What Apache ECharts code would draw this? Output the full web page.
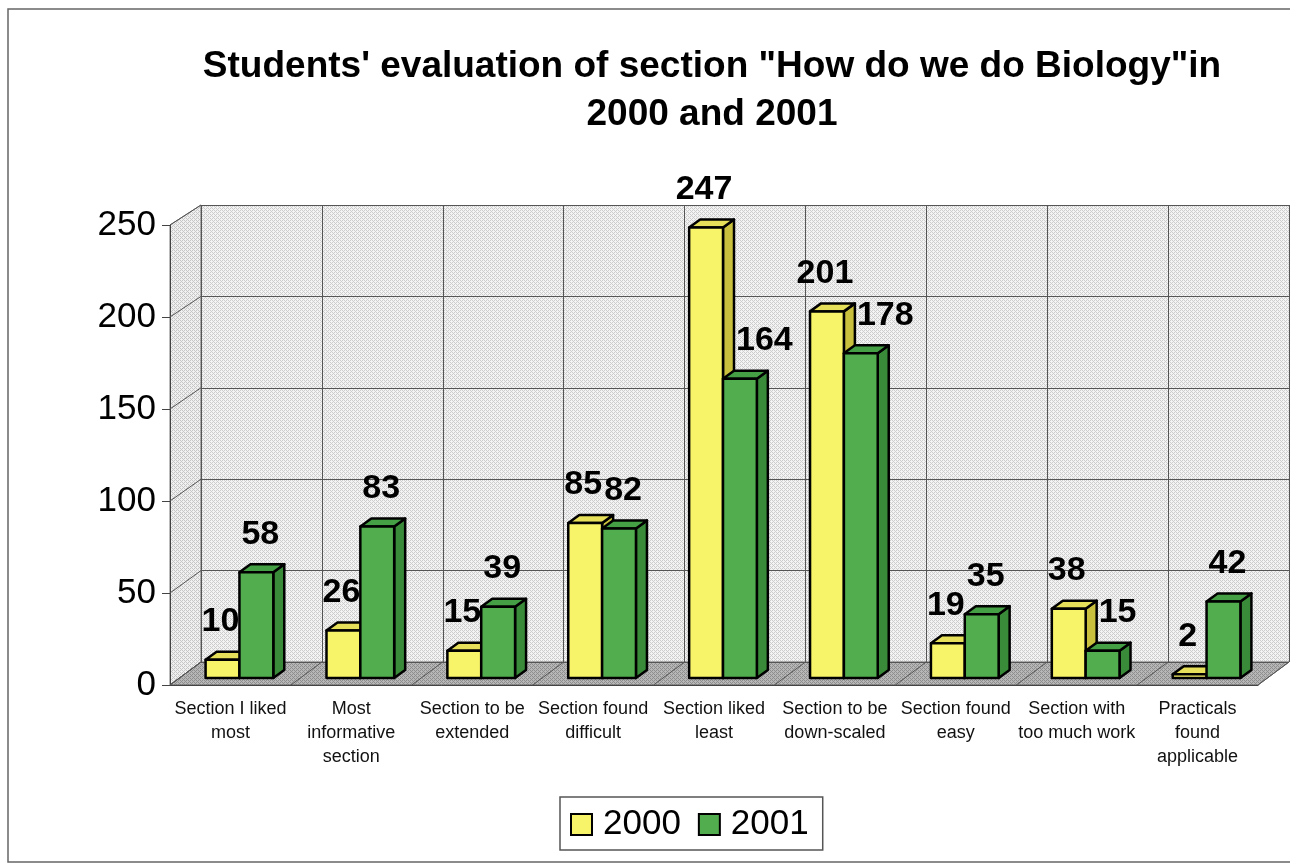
<!DOCTYPE html>
<html>
<head>
<meta charset="utf-8">
<script src="https://cdn.jsdelivr.net/npm/echarts@6/dist/echarts.min.js"></script>
<style>
  html, body { margin: 0; padding: 0; background: #fff; }
  #chart { width: 1290px; height: 865px; }
</style>
</head>
<body>
<div id="chart"></div>
<script>
// Survey categories and counts per year
const categories = [
  'Section I liked\nmost',
  'Most\ninformative\nsection',
  'Section to be\nextended',
  'Section found\ndifficult',
  'Section liked\nleast',
  'Section to be\ndown-scaled',
  'Section found\neasy',
  'Section with\ntoo much work',
  'Practicals\nfound\napplicable'
];
const values2000 = [10, 26, 15, 85, 247, 201, 19, 38, 2];
const values2001 = [58, 83, 39, 82, 164, 178, 35, 15, 42];
const valueTicks = [0, 50, 100, 150, 200, 250];
const seriesNames = ['2000', '2001'];

const FONT = '"Liberation Sans", Arial, sans-serif';
const LABEL_FONT = 'bold 34px ' + FONT;

// Small repeating tiles that give the walls and floor their grainy look
function tile(bg, dot) {
  const c = document.createElement('canvas');
  c.width = 4; c.height = 4;
  const g = c.getContext('2d');
  g.fillStyle = bg; g.fillRect(0, 0, 4, 4);
  g.fillStyle = dot;
  [[0, 0], [2, 0], [1, 1], [0, 2], [2, 2], [3, 3]].forEach(p => g.fillRect(p[0], p[1], 1, 1));
  return { image: c, repeat: 'repeat' };
}

const measureCtx = document.createElement('canvas').getContext('2d');
function textWidth(s) {
  measureCtx.font = LABEL_FONT;
  return measureCtx.measureText(s).width;
}

const palette = {
  '2000': { front: '#f8f46a', top: '#e6df5a', side: '#c9c03e' },
  '2001': { front: '#52ad4f', top: '#45a045', side: '#398a39' }
};
const DEPTH_X = 11, DEPTH_Y = 8;
const BAR_FRACTION = 0.28;
const LABEL_LIFT = 38;

function bar3D(name, left) {
  const col = palette[name];
  return function (params, api) {
    const cat = api.value(0);
    const val = api.value(1);
    const base = api.coord([cat, 0]);
    const top = api.coord([cat, val]);
    const band = api.size([1, 0])[0];
    const w = band * BAR_FRACTION;
    const x0 = left ? base[0] - w : base[0];
    const x1 = x0 + w;
    const yT = top[1], yB = base[1];
    const edge = { stroke: '#000', lineWidth: 2.5, lineJoin: 'round' };

    const label = String(val);
    const half = textWidth(label) / 2;
    let lx = x0 + w / 2 + (left ? -2 : 4);
    const ly = yT - LABEL_LIFT;
    if (!left) {
      // keep the 2001 label clear of a taller 2000 bar standing beside it
      const otherTop = api.coord([cat, values2000[params.dataIndex]])[1];
      if (otherTop - DEPTH_Y < ly + 14) {
        lx = Math.max(lx, base[0] + DEPTH_X + 2 + half);
      }
    }
    return {
      type: 'group',
      children: [
        { type: 'polygon', shape: { points: [[x1, yT], [x1 + DEPTH_X, yT - DEPTH_Y], [x1 + DEPTH_X, yB - DEPTH_Y], [x1, yB]] },
          style: Object.assign({ fill: col.side }, edge) },
        { type: 'polygon', shape: { points: [[x0, yT], [x0 + DEPTH_X, yT - DEPTH_Y], [x1 + DEPTH_X, yT - DEPTH_Y], [x1, yT]] },
          style: Object.assign({ fill: col.top }, edge) },
        { type: 'rect', shape: { x: x0, y: yT, width: w, height: yB - yT },
          style: Object.assign({ fill: col.front }, edge) },
        { type: 'text', z2: 100,
          style: { text: label, x: lx, y: ly,
                   align: 'center', verticalAlign: 'middle',
                   font: LABEL_FONT, fill: '#000' } }
      ]
    };
  };
}

const chart = echarts.init(document.getElementById('chart'), null, { renderer: 'canvas' });

const frontGrid = { left: 170, top: 225, width: 1088, height: 460 };
const backGrid = { left: 201, top: 205, width: 1088, height: 457 };
const barGrid = { left: 179, top: 222, width: 1088, height: 456 };

chart.setOption({
  animation: false,
  backgroundColor: '#fff',
  title: {
    text: 'Students\' evaluation of section "How do we do Biology"in\n2000 and 2001',
    left: 707, top: 38, textAlign: 'center',
    textStyle: { fontFamily: FONT, fontSize: 37, fontWeight: 'bold', color: '#000', lineHeight: 48 }
  },
  legend: {
    left: 560, top: 797,
    padding: [10, 14, 8, 10],
    itemGap: 17, itemWidth: 21, itemHeight: 21,
    borderColor: '#555', borderWidth: 1.5,
    textStyle: { fontFamily: FONT, fontSize: 35, color: '#000', padding: [0, 0, 0, 6] },
    data: seriesNames.map(n => ({ name: n, icon: 'rect',
      itemStyle: { color: palette[n].front, borderColor: '#000', borderWidth: 2 } }))
  },
  grid: [
    Object.assign({ containLabel: false }, frontGrid),
    Object.assign({ containLabel: false }, backGrid),
    Object.assign({ containLabel: false }, barGrid)
  ],
  xAxis: [
    { gridIndex: 0, type: 'category', data: categories, boundaryGap: true,
      axisLine: { lineStyle: { color: '#444', width: 1 } },
      axisTick: { length: 8, lineStyle: { color: '#444' } },
      axisLabel: { interval: 0, margin: 12, fontFamily: FONT, fontSize: 18, lineHeight: 24, color: '#111' },
      splitLine: { show: false } },
    { gridIndex: 1, type: 'category', data: categories, boundaryGap: true,
      axisLine: { show: false }, axisTick: { show: false }, axisLabel: { show: false },
      splitLine: { show: true, lineStyle: { color: '#555', width: 1 } } },
    { gridIndex: 2, type: 'category', data: categories, show: false }
  ],
  yAxis: [
    { gridIndex: 0, type: 'value', min: 0, max: 250, interval: 50,
      axisLine: { show: true, lineStyle: { color: '#444', width: 1 } },
      axisTick: { show: true, length: 8, lineStyle: { color: '#444' } },
      axisLabel: { margin: 14, fontFamily: FONT, fontSize: 35, color: '#000' },
      splitLine: { show: false } },
    { gridIndex: 1, type: 'value', min: 0, max: 250, interval: 50,
      axisLine: { show: false }, axisTick: { show: false }, axisLabel: { show: false },
      splitLine: { show: true, lineStyle: { color: '#555', width: 1 } } },
    { gridIndex: 2, type: 'value', min: 0, max: 250, interval: 50, show: false }
  ],
  series: [
    { name: '2000', type: 'custom', xAxisIndex: 2, yAxisIndex: 2,
      itemStyle: { color: palette['2000'].front, borderColor: '#000', borderWidth: 2 },
      renderItem: bar3D('2000', true),
      encode: { x: 0, y: 1 },
      data: values2000.map((v, i) => [i, v]) },
    { name: '2001', type: 'custom', xAxisIndex: 2, yAxisIndex: 2,
      itemStyle: { color: palette['2001'].front, borderColor: '#000', borderWidth: 2 },
      renderItem: bar3D('2001', false),
      encode: { x: 0, y: 1 },
      data: values2001.map((v, i) => [i, v]) }
  ]
});

// Walls, floor and the receding grid lines, placed from the axes' own pixel scales
(function drawRoom() {
  const fy = v => chart.convertToPixel({ yAxisIndex: 0 }, v);
  const by = v => chart.convertToPixel({ yAxisIndex: 1 }, v);
  const fx0 = chart.convertToPixel({ xAxisIndex: 0 }, 0);
  const fx1 = chart.convertToPixel({ xAxisIndex: 0 }, 1);
  const bx0 = chart.convertToPixel({ xAxisIndex: 1 }, 0);
  const band = fx1 - fx0;
  const fLeft = fx0 - band / 2, bLeft = bx0 - band / 2;
  const n = categories.length;
  const fRight = fLeft + band * n, bRight = bLeft + band * n;
  const vMin = valueTicks[0], vMax = valueTicks[valueTicks.length - 1];

  const els = [];
  els.push({ type: 'rect', z: -20, shape: { x: 8, y: 9, width: 1300, height: 853 },
    style: { fill: 'none', stroke: '#666', lineWidth: 1.5 } });
  // back wall
  els.push({ type: 'rect', z: -10, shape: { x: bLeft, y: by(vMax), width: bRight - bLeft, height: by(vMin) - by(vMax) },
    style: { fill: tile('#f3f3f3', '#cdcdcd') } });
  // left side wall
  els.push({ type: 'polygon', z: -10,
    shape: { points: [[fLeft, fy(vMax)], [bLeft, by(vMax)], [bLeft, by(vMin)], [fLeft, fy(vMin)]] },
    style: { fill: tile('#f0f0f0', '#c6c6c6'), stroke: '#777', lineWidth: 1 } });
  // floor
  els.push({ type: 'polygon', z: -9,
    shape: { points: [[fLeft, fy(vMin)], [fRight, fy(vMin)], [bRight, by(vMin)], [bLeft, by(vMin)]] },
    style: { fill: tile('#b7b7b7', '#8e8e8e'), stroke: '#666', lineWidth: 1 } });
  // receding lines on the side wall
  valueTicks.forEach(v => {
    els.push({ type: 'line', z: 1, shape: { x1: fLeft, y1: fy(v), x2: bLeft, y2: by(v) },
      style: { stroke: '#555', lineWidth: 1 } });
  });
  // receding lines on the floor
  for (let k = 0; k <= n; k++) {
    els.push({ type: 'line', z: 1,
      shape: { x1: fLeft + band * k, y1: fy(vMin), x2: bLeft + band * k, y2: by(vMin) },
      style: { stroke: '#555', lineWidth: 1 } });
  }
  chart.setOption({ graphic: { elements: els } });
})();
</script>
</body>
</html>
